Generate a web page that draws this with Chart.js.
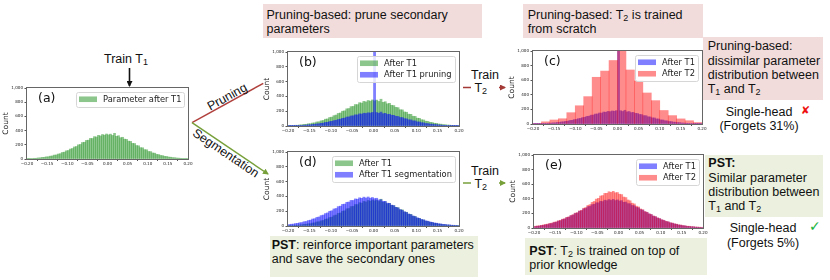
<!doctype html>
<html>
<head>
<meta charset="utf-8">
<style>
* { box-sizing: border-box; margin: 0; padding: 0; }
body {
    width: 830px;
    height: 280px;
    background: #fff;
    position: relative;
    overflow: hidden;
    font-family: "Liberation Sans", Arial, sans-serif;
    font-size: 12.5px;
    color: #111;
}
canvas { position: absolute; }
svg { position: absolute; left: 0; top: 0; }
.note {
    position: absolute;
    line-height: 14.2px;
    white-space: nowrap;
}
.pink { background: #f2dcdb; }
.green { background: #ebf1de; }
.center { text-align: center; }
sub { font-size: 0.72em; vertical-align: -0.22em; line-height: 0; }
b { font-weight: bold; }
</style>
</head>
<body>

<svg width="830" height="280">
    <defs>
        <marker id="headBlack" markerWidth="6" markerHeight="6" refX="5" refY="3" orient="auto" markerUnits="userSpaceOnUse">
            <path d="M0,0 L6,3 L0,6 z" fill="#111"/>
        </marker>
        <marker id="headRed" markerWidth="6" markerHeight="6" refX="5" refY="3" orient="auto" markerUnits="userSpaceOnUse">
            <path d="M0,0 L6,3 L0,6 z" fill="#a33a36"/>
        </marker>
        <marker id="headGreen" markerWidth="6" markerHeight="6" refX="5" refY="3" orient="auto" markerUnits="userSpaceOnUse">
            <path d="M0,0 L6,3 L0,6 z" fill="#77a03a"/>
        </marker>
    </defs>
    <line x1="129.5" y1="68" x2="129.5" y2="86" stroke="#111" stroke-width="1.6" marker-end="url(#headBlack)"/>
    <line x1="192" y1="122.7" x2="263.3" y2="83.3" stroke="#b0413d" stroke-width="1.5"/>
    <line x1="192" y1="122.7" x2="268" y2="174" stroke="#77a03a" stroke-width="1.5" marker-end="url(#headGreen)"/>
    <line x1="463" y1="87.5" x2="505" y2="87.5" stroke="#a33a36" stroke-width="1.5" marker-end="url(#headRed)"/>
    <line x1="463" y1="183" x2="505" y2="183" stroke="#77a03a" stroke-width="1.5" marker-end="url(#headGreen)"/>
</svg>

<div class="note" style="left:104px; top:52px;">Train T<sub>1</sub></div>
<div class="note" style="left:211px; top:112px; transform-origin:0 0; transform:rotate(-29deg) translate(0,-11.4px); line-height:13px;">Pruning</div>
<div class="note" style="left:197px; top:126.5px; transform-origin:0 0; transform:rotate(34deg) translate(0,-0.5px); line-height:13px;">Segmentation</div>

<div class="note" style="left:471px; top:69px; background:#fff; line-height:13px;">Train<br>&nbsp;T<sub>2</sub></div>
<div class="note" style="left:471px; top:165px; background:#fff; line-height:13px;">Train<br>&nbsp;T<sub>2</sub></div>

<div class="note pink" style="left:263px; top:4px; width:219px; height:34px; padding:3.6px 0 0 3.5px;">Pruning-based: prune secondary<br>parameters</div>
<div class="note pink" style="left:523px; top:4px; width:180px; height:34px; padding:3.6px 0 0 4.7px;">Pruning-based: T<sub>2</sub> is trained<br>from scratch</div>
<div class="note pink" style="left:703px; top:37px; width:120px; height:63px; padding:2.3px 0 0 4.7px;">Pruning-based:<br>dissimilar parameter<br>distribution between<br>T<sub>1</sub> and T<sub>2</sub></div>
<div class="note center" style="left:709px; top:104.6px; width:100px;">Single-head<br>(Forgets 31%)</div>
<div class="note" style="left:801px; top:104px; color:#ee1111; font-family:'DejaVu Sans'; font-size:11px;">✘</div>

<div class="note green" style="left:270px; top:236px; width:208px; height:41px; padding:2px 0 0 1.7px;"><b>PST</b>: reinforce important parameters<br>and save the secondary ones</div>
<div class="note green" style="left:525px; top:238px; width:182px; height:37px; padding:5.6px 0 0 4.3px;"><b>PST</b>: T<sub>2</sub> is trained on top of<br>prior knowledge</div>
<div class="note green" style="left:705px; top:155px; width:118px; height:62px; padding:1.3px 0 0 3.3px;"><b>PST:</b><br>Similar parameter<br>distribution between<br>T<sub>1</sub> and T<sub>2</sub></div>
<div class="note center" style="left:713px; top:221.3px; width:100px;">Single-head<br>(Forgets 5%)</div>
<div class="note" style="left:809px; top:219px; color:#19b43c; font-family:'DejaVu Sans'; font-size:14px;">✓</div>

<canvas id="ca"></canvas>
<canvas id="cb"></canvas>
<canvas id="cc"></canvas>
<canvas id="cd"></canvas>
<canvas id="ce"></canvas>

<script src="https://cdn.jsdelivr.net/npm/chart.js@4"></script>
<script>

// histogram bins: 80 bins of 0.005 from -0.2 to 0.2
const binStart = -0.2
const binWidth = 0.005
// coarse bins used by "After T2" in (c)
const coarseStart = -0.2
const coarseWidth = 0.02

const xTicks = [-0.2, -0.15, -0.1, -0.05, 0, 0.05, 0.1, 0.15, 0.2]
const yTicks = [0, 200, 400, 600, 800, 1000]

// parameter histogram after T1 (used in a, b, d)
const afterT1 = [4,6,7,10,10,15,16,22,23,30, 31,40,43,55,57,70,75,92,96,115,
    120,140,148,170,176,200,205,232,236,262, 265,290,289,315,310,333,325,345,336,352,
    340,350,332,362,320,328,300,306,280,276, 252,248,220,218,190,186,160,158,132,130,
    106,104,85,82,65,62,50,47,37,35, 27,25,19,18,13,12,9,8,6,5]

// after T1 pruning (b) / after T1 in (c); pruned weights pile up in the zero bin
const prunedT1 = [2,3,4,5,5,8,8,11,12,16, 16,21,22,29,30,37,39,48,50,60,
    63,73,77,88,92,104,107,121,123,136, 138,151,150,164,161,173,169,179,175,183,
    2600,182,172,188,166,171,156,159,146,144, 131,129,115,114,99,97,84,83,70,69,
    56,55,45,43,34,33,26,25,20,19, 14,13,10,9,7,6,5,4,3,3]

// after T1 segmentation (d) / after T1 in (e)
const segT1 = [19,24,26,33,36,44,47,58,61,74, 79,94,99,116,122,141,148,168,177,199,
    206,230,237,262,268,292,296,320,324,346, 345,366,362,381,374,390,378,392,376,385,
    370,375,352,356,334,333,309,306,282,276, 252,245,222,213,192,183,162,154,136,127,
    111,103,89,83,70,65,55,50,41,38, 31,28,22,21,16,15,11,10,8,7]

// after T2 with PST (e)
const pstT2 = [24,28,31,37,43,49,54,63,68,80, 85,99,106,121,128,146,153,172,183,204,
    210,234,243,271,281,309,320,351,364,396, 406,438,445,474,475,497,488,502,483,486,
    463,458,424,417,384,373,340,330,299,289, 261,251,226,216,195,186,165,157,139,130,
    114,106,92,86,73,68,58,53,44,41, 34,31,25,24,19,18,14,13,11,10]

// after T2 with pruning, coarse bins (c)
const prunedT2 = [8,30,55,72,155,250,375,640,725,870, 1500,740,590,425,320,185,115,70,45,20]

const green = 'rgba(0,128,0,0.45)'
const blue = 'rgba(0,0,255,0.5)'
const red = 'rgba(255,0,0,0.45)'

function toPoints(values, start, width) {
    return values.map((y, i) => ({x: start + width * (i + 0.5), y}))
}

const boxLegend = {
    id: 'boxLegend',
    afterDraw(chart) {
        const {ctx, chartArea: a} = chart
        const items = chart.data.datasets
        ctx.save()
        ctx.font = '8.3px "DejaVu Sans"'
        const textW = Math.max(...items.map(d => ctx.measureText(d.label).width))
        const pad = 3, handle = 18, gap = 6, rowH = 11.5
        const w = Math.round(pad + handle + gap + textW + pad)
        const h = Math.round(3 + rowH * items.length)
        const x = Math.round(a.right - 4 - w), y = Math.round(a.top + 4)
        ctx.fillStyle = 'rgba(255,255,255,0.8)'
        ctx.strokeStyle = '#d6d6d6'
        ctx.lineWidth = 1
        ctx.beginPath()
        ctx.roundRect(x + 0.5, y + 0.5, w, h, 2)
        ctx.fill()
        ctx.stroke()
        items.forEach((d, i) => {
            const cy = y + 1.5 + rowH * (i + 0.5)
            ctx.fillStyle = d.backgroundColor
            ctx.fillRect(x + pad, cy - 2.8, handle, 5.6)
            ctx.fillStyle = '#222'
            ctx.textBaseline = 'middle'
            ctx.fillText(d.label, x + pad + handle + gap, cy + 0.5)
        })
        ctx.restore()
    }
}

const frame = {
    id: 'frame',
    afterDraw(chart, args, opts) {
        const {ctx, chartArea: a} = chart
        ctx.save()
        ctx.strokeStyle = '#666'
        ctx.lineWidth = 1
        ctx.strokeRect(a.left - 0.5, a.top - 0.5, a.right - a.left + 1, a.bottom - a.top + 1)
        ctx.fillStyle = '#111'
        ctx.font = '12.5px "DejaVu Sans"'
        ctx.textBaseline = 'top'
        ctx.fillText(opts.tag, a.left + 11, a.top + 4)
        ctx.restore()
    }
}

function makeHist(id, area, datasets, tag) {
    const canvas = document.getElementById(id)
    const padL = 30, padT = 6, padR = 10, padB = 12
    canvas.width = area.right - area.left + padL + padR
    canvas.height = area.bottom - area.top + padT + padB
    canvas.style.left = (area.left - padL) + 'px'
    canvas.style.top = (area.top - padT) + 'px'
    const tickFont = {family: 'DejaVu Sans', size: 4.1}
    const scales = {
        x: {
            type: 'linear', min: -0.2, max: 0.2, offset: false,
            afterBuildTicks: s => { s.ticks = xTicks.map(v => ({value: v})) },
            afterFit: s => { s.height = padB },
            ticks: {
                font: tickFont, color: '#1a1a1a', padding: 0, autoSkip: false, maxRotation: 0,
                callback: v => (v < 0 ? '\u2212' : '') + Math.abs(v).toFixed(2),
            },
            grid: {drawOnChartArea: false, tickLength: 2, color: '#555'},
            border: {display: false},
        },
        y: {
            min: 0, max: 1000,
            afterBuildTicks: s => { s.ticks = yTicks.map(v => ({value: v})) },
            afterFit: s => { s.width = padL },
            ticks: {font: tickFont, color: '#1a1a1a', padding: 1.5},
            grid: {drawOnChartArea: false, tickLength: 2.5, color: '#555'},
            border: {display: false},
            title: {display: true, text: 'Count', color: '#222', font: {family: 'DejaVu Sans', size: 7.5}, padding: {top: 4.5, bottom: 0}},
        },
    }
    if (datasets.some(d => d.xAxisID === 'x2')) {
        scales.x2 = {type: 'linear', min: -0.2, max: 0.2, offset: false, display: false, position: 'bottom'}
    }
    return new Chart(canvas, {
        type: 'bar',
        data: {datasets},
        options: {
            responsive: false,
            animation: false,
            layout: {autoPadding: false, padding: {left: 0, top: padT, right: padR, bottom: 0}},
            datasets: {bar: {barPercentage: 1, categoryPercentage: 1, grouped: false, borderWidth: 0}},
            scales,
            plugins: {legend: {display: false}, tooltip: {enabled: false}, frame: {tag}},
            events: [],
        },
        plugins: [frame, boxLegend],
    })
}

makeHist('ca', {left: 27, top: 88, right: 188, bottom: 159}, [
    {label: 'Parameter after T1', data: toPoints(afterT1, binStart, binWidth), backgroundColor: green},
], '(a)')

makeHist('cb', {left: 288, top: 52, right: 459, bottom: 126}, [
    {label: 'After T1', data: toPoints(afterT1, binStart, binWidth), backgroundColor: green, order: 0},
    {label: 'After T1 pruning', data: toPoints(prunedT1, binStart, binWidth), backgroundColor: blue, order: -1},
], '(b)')

makeHist('cc', {left: 533, top: 51, right: 702, bottom: 124}, [
    {label: 'After T1', data: toPoints(prunedT1, binStart, binWidth), backgroundColor: blue, order: 0},
    {label: 'After T2', data: toPoints(prunedT2, coarseStart, coarseWidth), backgroundColor: red, order: -1, xAxisID: 'x2'},
], '(c)')

makeHist('cd', {left: 288, top: 152, right: 459, bottom: 226}, [
    {label: 'After T1', data: toPoints(afterT1, binStart, binWidth), backgroundColor: green, order: 0},
    {label: 'After T1 segmentation', data: toPoints(segT1, binStart, binWidth), backgroundColor: blue, order: -1},
], '(d)')

makeHist('ce', {left: 534, top: 155, right: 703, bottom: 228}, [
    {label: 'After T1', data: toPoints(segT1, binStart, binWidth), backgroundColor: blue, order: 0},
    {label: 'After T2', data: toPoints(pstT2, binStart, binWidth), backgroundColor: red, order: -1},
], '(e)')

</script>
</body>
</html>
